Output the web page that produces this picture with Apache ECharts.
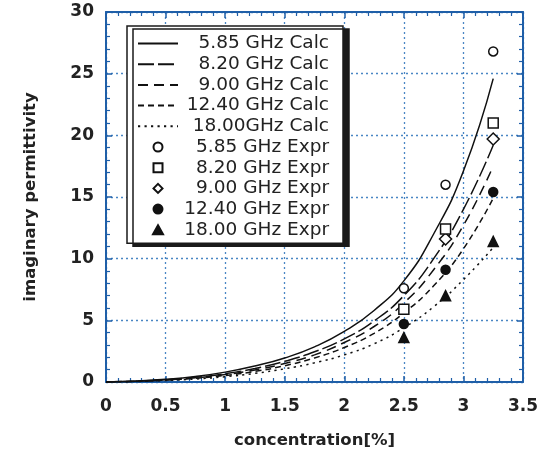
<!DOCTYPE html>
<html><head><meta charset="utf-8">
<script src="https://cdn.jsdelivr.net/npm/echarts@6/dist/echarts.min.js"></script>
<style>html,body{margin:0;padding:0;background:#fff}#c{width:547px;height:454px}</style>
</head><body><div id="c"></div>
<script>
// concentration [%] for calculated curves
const calcX = [0, 0.25, 0.5, 0.75, 1.0, 1.25, 1.5, 1.75, 2.0, 2.25, 2.5, 2.75, 3.0, 3.25];
const calc585 = [0, 0.08, 0.22, 0.45, 0.80, 1.30, 1.95, 2.85, 4.1, 5.8, 8.2, 12.0, 17.1, 24.6];
const calc820 = [0, 0.07, 0.19, 0.38, 0.68, 1.10, 1.68, 2.45, 3.5, 4.95, 7.0, 10.0, 14.0, 19.2];
const calc900 = [0, 0.06, 0.17, 0.34, 0.60, 0.98, 1.50, 2.20, 3.2, 4.5, 6.4, 9.1, 12.7, 17.5];
const calc1240 = [0, 0.05, 0.15, 0.30, 0.53, 0.86, 1.32, 1.95, 2.8, 3.95, 5.6, 7.8, 10.8, 14.9];
const calc1800 = [0, 0.04, 0.12, 0.24, 0.43, 0.70, 1.07, 1.55, 2.2, 3.1, 4.4, 6.1, 8.3, 10.9];
// experimental points
const exprX = [2.5, 2.85, 3.25];
const expr585 = [7.6, 16.0, 26.8];
const expr820 = [5.9, 12.4, 21.0];
const expr900 = [null, 11.6, 19.7];
const expr1240 = [4.7, 9.1, 15.4];
const expr1800 = [3.6, 7.0, 11.4];
const seriesNames = ['5.85 GHz Calc', '8.20 GHz Calc', '9.00 GHz Calc', '12.40 GHz Calc', '18.00GHz Calc',
  '5.85 GHz Expr', '8.20 GHz Expr', '9.00 GHz Expr', '12.40 GHz Expr', '18.00 GHz Expr'];
const xName = 'concentration[%]';
const yName = 'imaginary permittivity';

const pairs = (xs, ys) => xs.map((x, i) => [x, ys[i]]).filter(p => p[1] !== null);
const BLUE = '#1f5fa8';
const GRIDC = '#4a86c4';
const FONT = 'DejaVu Sans';

const calcData = [calc585, calc820, calc900, calc1240, calc1800];
const calcDash = ['solid', [16, 4], [10, 6], [6, 4], [2.2, 4.3]];
const exprData = [expr585, expr820, expr900, expr1240, expr1800];
const exprSym = ['circle', 'rect', 'diamond', 'circle', 'triangle'];
const exprSize = [9, 10, 12, 9, 10];
const exprFill = ['#fff', '#fff', '#fff', '#111', '#111'];
const legendIcons = ['circle', 'path://M0,0L10,0L10,10L0,10Z', 'path://M6,0L12,6L6,12L0,6Z',
  'circle', 'path://M5,0L10,9L0,9Z'];

const series = [];
calcData.forEach((d, i) => {
  series.push({
    name: seriesNames[i], type: 'line', data: pairs(calcX, d), smooth: true,
    symbol: 'none', z: 2,
    lineStyle: { color: '#111', width: 1.5, type: calcDash[i] },
    itemStyle: { color: '#111' }
  });
});
exprData.forEach((d, i) => {
  series.push({
    name: seriesNames[5 + i], type: 'scatter', data: pairs(exprX, d),
    symbol: exprSym[i], symbolSize: exprSize[i], z: i === 1 ? 5 : 4,
    itemStyle: { color: exprFill[i], borderColor: '#111', borderWidth: 1.5, opacity: 1 }
  });
});

const legendData = seriesNames.map((n, i) => i < 5
  ? { name: n, itemStyle: { opacity: 0 } }
  : { name: n, icon: legendIcons[i - 5] });

const axisCommon = {
  type: 'value',
  axisLine: { show: true, onZero: false, lineStyle: { color: BLUE, width: 2 } },
  axisTick: { show: true, inside: true, length: 6, lineStyle: { color: BLUE, width: 1.5 } },
  minorTick: { show: true, splitNumber: 5, length: 4, lineStyle: { color: BLUE, width: 1.2 } },
};
const labelStyle = { fontFamily: FONT, fontWeight: 'bold', fontSize: 17, color: '#222' };

const chart = echarts.init(document.getElementById('c'), null, { renderer: 'canvas' });
chart.setOption({
  backgroundColor: '#fff',
  animation: false,
  grid: { left: 106, right: 24, top: 12, bottom: 70 },
  legend: {
    orient: 'vertical', left: 127, top: 26,
    backgroundColor: '#fff', borderColor: '#1a1a1a', borderWidth: 1.5,
    shadowColor: '#1a1a1a', shadowOffsetX: 6, shadowOffsetY: 3, shadowBlur: 0,
    padding: [8, 14, 4, 10],
    itemWidth: 40, itemHeight: 9, itemGap: 1.7, symbolKeepAspect: true,
    data: legendData,
    formatter: n => '{r|' + n + '}',
    textStyle: {
      fontFamily: FONT, fontSize: 18.5, color: '#222', width: 146, lineHeight: 18,
      rich: { r: { align: 'right', fontFamily: FONT, fontSize: 18.5, color: '#222', width: 146 } }
    }
  },
  xAxis: [
    Object.assign({}, axisCommon, {
      min: 0, max: 3.5, interval: 0.5, position: 'bottom',
      name: xName, nameLocation: 'middle', nameGap: 50,
      nameTextStyle: { fontFamily: FONT, fontWeight: 'bold', fontSize: 16.5, color: '#222' },
      axisLabel: Object.assign({ margin: 16, formatter: v => String(v) }, labelStyle),
      splitLine: { show: true, lineStyle: { color: GRIDC, width: 1.3, type: [2, 3] } }
    }),
    Object.assign({}, axisCommon, {
      min: 0, max: 3.5, interval: 0.5, position: 'top',
      axisLabel: { show: false }, splitLine: { show: false }
    })
  ],
  yAxis: [
    Object.assign({}, axisCommon, {
      min: 0, max: 30, interval: 5, position: 'left',
      name: yName, nameLocation: 'middle', nameGap: 67,
      nameTextStyle: { fontFamily: FONT, fontWeight: 'bold', fontSize: 16.5, color: '#222' },
      axisLabel: Object.assign({ margin: 12 }, labelStyle),
      splitLine: { show: true, lineStyle: { color: GRIDC, width: 1.3, type: [2, 3] } }
    }),
    Object.assign({}, axisCommon, {
      min: 0, max: 30, interval: 5, position: 'right',
      axisLabel: { show: false }, splitLine: { show: false }
    })
  ],
  series: series
});
</script>
</body></html>
